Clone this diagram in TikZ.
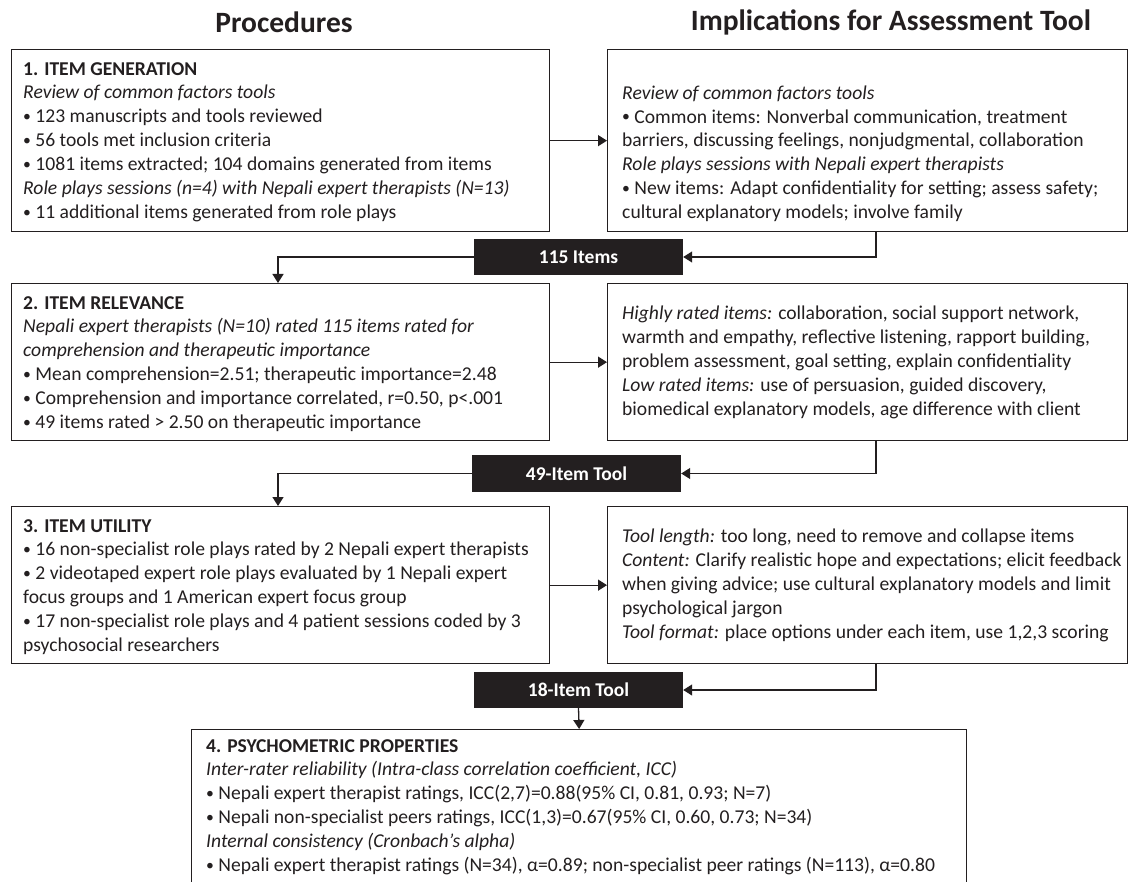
\documentclass[tikz,border=0pt]{standalone}
\usepackage{fontspec}
\usepackage{graphicx}
\setmainfont{Carlito}
\usetikzlibrary{arrows.meta,calc}
\definecolor{ink}{HTML}{231F20}
\newcommand\bu{\raisebox{0.12ex}{\scalebox{0.8}{•}}}
\begin{document}
\begin{tikzpicture}[x=1pt,y=-1pt,
  box/.style={draw=ink, line width=1.3pt, anchor=north west, inner sep=0pt},
  body/.style={anchor=north west, align=left, inner sep=0pt, font=\fontsize{19.6}{23.9}\selectfont, text=ink},
  rbody/.style={anchor=west, align=left, inner sep=0pt, font=\fontsize{19.6}{23.9}\selectfont, text=ink},
  tag/.style={fill=ink, text=white, font=\bfseries\fontsize{19.5}{22}\selectfont, minimum width=209pt, minimum height=36pt, inner sep=0pt},
  head/.style={font=\bfseries\fontsize{29.5}{34}\selectfont, text=ink},
  conn/.style={draw=ink, line width=1.3pt},
  arr/.style={conn, -{Triangle[length=9pt,width=11pt]}}]
\useasboundingbox (0,0) rectangle (1134,882);
\fill[white] (0,0) rectangle (1134,882);
% headers
\node[head] (h1) at (284,22) {Procedures};
\node[head] (h2) at (891,22) {Implications for Assessment Tool};
% helper x positions
\coordinate (xr) at (876,0);
\coordinate (xl) at (278,0);
% row 1
\node[box, minimum width=538pt, minimum height=182pt] (b1) at (11,49) {};
\node[box, minimum width=520pt, minimum height=182pt] (r1) at (607,49) {};
\node[body] (t1) at ($(b1.north west)+(12,13)$) {\textbf{1. ITEM GENERATION}\\
\textit{Review of common factors tools}\\
\bu{} 123 manuscripts and tools reviewed\\
\bu{} 56 tools met inclusion criteria\\
\bu{} 1081 items extracted; 104 domains generated from items\\
\textit{Role plays sessions (n=4) with Nepali expert therapists (N=13)}\\
\bu{} 11 additional items generated from role plays};
\node[rbody] (u1) at ($(r1.west)+(15,13)$) {\textit{Review of common factors tools}\\
\bu{} Common items: Nonverbal communication, treatment\\
barriers, discussing feelings, nonjudgmental, collaboration\\
\textit{Role plays sessions with Nepali expert therapists}\\
\bu{} New items: Adapt confidentiality for setting; assess safety;\\
cultural explanatory models; involve family};
\node[tag] (g1) at (578.5,257) {115 Items};
% row 2
\node[box, minimum width=538pt, minimum height=157pt] (b2) at (11,283) {};
\node[box, minimum width=520pt, minimum height=157pt] (r2) at (607,283) {};
\node[body] (t2) at ($(b2.north west)+(12,13)$) {\textbf{2. ITEM RELEVANCE}\\
\textit{Nepali expert therapists (N=10) rated 115 items rated for}\\
\textit{comprehension and therapeutic importance}\\
\bu{} Mean comprehension=2.51; therapeutic importance=2.48\\
\bu{} Comprehension and importance correlated, r=0.50, p<.001\\
\bu{} 49 items rated > 2.50 on therapeutic importance};
\node[rbody] (u2) at ($(r2.west)+(15,0)$) {\textit{Highly rated items:} collaboration, social support network,\\
warmth and empathy, reflective listening, rapport building,\\
problem assessment, goal setting, explain confidentiality\\
\textit{Low rated items:} use of persuasion, guided discovery,\\
biomedical explanatory models, age difference with client};
\node[tag, minimum height=37pt] (g2) at (576.5,473.5) {49-Item Tool};
% row 3
\node[box, minimum width=538pt, minimum height=157pt] (b3) at (11,506) {};
\node[box, minimum width=520pt, minimum height=157pt] (r3) at (607,506) {};
\node[body] (t3) at ($(b3.north west)+(12,13)$) {\textbf{3. ITEM UTILITY}\\
\bu{} 16 non-specialist role plays rated by 2 Nepali expert therapists\\
\bu{} 2 videotaped expert role plays evaluated by 1 Nepali expert\\
focus groups and 1 American expert focus group\\
\bu{} 17 non-specialist role plays and 4 patient sessions coded by 3\\
psychosocial researchers};
\node[rbody] (u3) at ($(r3.west)+(15,0)$) {\textit{Tool length:} too long, need to remove and collapse items\\
\textit{Content:} Clarify realistic hope and expectations; elicit feedback\\
when giving advice; use cultural explanatory models and limit\\
psychological jargon\\
\textit{Tool format:} place options under each item, use 1,2,3 scoring};
\node[tag] (g3) at (578.5,690) {18-Item Tool};
% row 4
\node[box, minimum width=775pt, minimum height=175pt] (b4) at (191,729) {};
\node[body] (t4) at ($(b4.north west)+(15,10)$) {\textbf{4. PSYCHOMETRIC PROPERTIES}\\
\textit{Inter-rater reliability (Intra-class correlation coefficient, ICC)}\\
\bu{} Nepali expert therapist ratings, ICC(2,7)=0.88(95\% CI, 0.81, 0.93; N=7)\\
\bu{} Nepali non-specialist peers ratings, ICC(1,3)=0.67(95\% CI, 0.60, 0.73; N=34)\\
\textit{Internal consistency (Cronbach’s alpha)}\\
\bu{} Nepali expert therapist ratings (N=34), α=0.89; non-specialist peer ratings (N=113), α=0.80};
% connectors
\draw[arr] (b1.east) -- (r1.west);
\draw[arr] (r1.south -| xr) |- (g1.east);
\draw[arr] (g1.west) -| (b2.north -| xl);
\draw[arr] (b2.east) -- (r2.west);
\draw[arr] (r2.south -| xr) |- (g2.east);
\draw[arr] (g2.west) -| (b3.north -| xl);
\draw[arr] (b3.east) -- (r3.west);
\draw[arr] (r3.south -| xr) |- (g3.east);
\draw[arr] (g3.south) -- (b4.north);
\end{tikzpicture}
\end{document}
